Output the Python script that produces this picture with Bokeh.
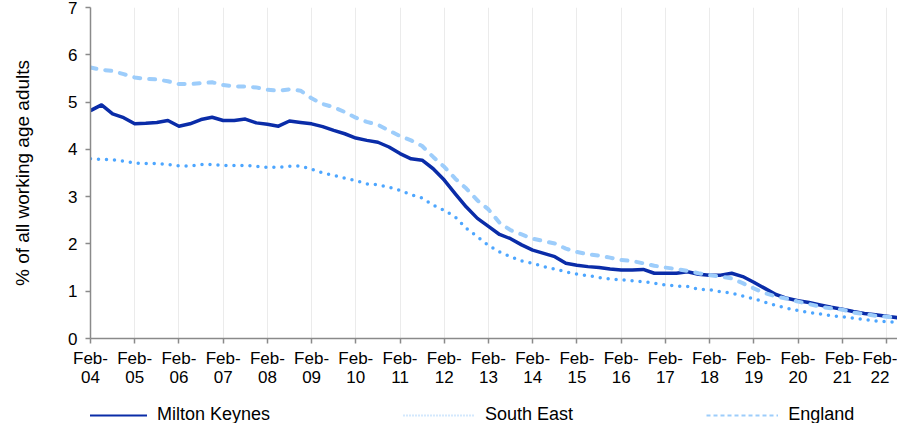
from bokeh.plotting import figure
from bokeh.models import Range1d, FixedTicker, Legend, LegendItem
from bokeh.layouts import column
from bokeh.embed import file_html
from bokeh.resources import INLINE

# Quarterly series, Feb-04 .. May-22
quarters = [f"{m}-{y:02d}" for y in range(4, 23) for m in ("Feb", "May", "Aug", "Nov")][:74]

milton_keynes = [4.82, 4.94, 4.75, 4.67, 4.54, 4.55, 4.57, 4.61, 4.49, 4.54,
                 4.63, 4.68, 4.61, 4.61, 4.64, 4.56, 4.53, 4.49, 4.60, 4.57,
                 4.54, 4.48, 4.40, 4.33, 4.24, 4.19, 4.15, 4.05, 3.91, 3.80,
                 3.77, 3.59, 3.35, 3.06, 2.78, 2.54, 2.37, 2.20, 2.11, 1.98,
                 1.87, 1.80, 1.73, 1.59, 1.55, 1.52, 1.50, 1.47, 1.45, 1.45,
                 1.46, 1.38, 1.38, 1.38, 1.41, 1.36, 1.34, 1.34, 1.38, 1.31,
                 1.19, 1.06, 0.93, 0.85, 0.80, 0.76, 0.71, 0.66, 0.62, 0.57,
                 0.53, 0.50, 0.47, 0.44]

south_east = [3.80, 3.79, 3.78, 3.75, 3.71, 3.70, 3.70, 3.68, 3.65, 3.65,
              3.68, 3.68, 3.66, 3.66, 3.66, 3.64, 3.62, 3.62, 3.64, 3.65,
              3.58, 3.50, 3.45, 3.39, 3.34, 3.27, 3.25, 3.20, 3.13, 3.04,
              2.97, 2.82, 2.71, 2.57, 2.33, 2.15, 1.97, 1.83, 1.73, 1.64,
              1.59, 1.52, 1.47, 1.41, 1.36, 1.33, 1.29, 1.26, 1.24, 1.22,
              1.20, 1.17, 1.13, 1.11, 1.10, 1.04, 1.03, 0.99, 0.96, 0.90,
              0.84, 0.77, 0.70, 0.64, 0.59, 0.55, 0.52, 0.48, 0.46, 0.43,
              0.40, 0.37, 0.36, 0.34]

england = [5.73, 5.68, 5.66, 5.59, 5.52, 5.49, 5.48, 5.44, 5.38, 5.38,
           5.40, 5.42, 5.36, 5.33, 5.33, 5.31, 5.26, 5.24, 5.27, 5.24,
           5.08, 4.96, 4.89, 4.79, 4.67, 4.58, 4.52, 4.40, 4.28, 4.19,
           4.07, 3.84, 3.63, 3.38, 3.17, 2.92, 2.73, 2.45, 2.29, 2.20,
           2.11, 2.06, 2.01, 1.90, 1.83, 1.78, 1.75, 1.71, 1.66, 1.64,
           1.59, 1.54, 1.50, 1.47, 1.43, 1.38, 1.34, 1.31, 1.27, 1.17,
           1.06, 0.96, 0.89, 0.84, 0.78, 0.73, 0.67, 0.64, 0.61, 0.55,
           0.52, 0.48, 0.46, 0.44]

tick_years = ["04", "05", "06", "07", "08", "09", "10", "11", "12", "13",
              "14", "15", "16", "17", "18", "19", "20", "21", "22"]
y_ticks = [0, 1, 2, 3, 4, 5, 6, 7]

FONT = "Liberation Sans"
MK_COL = "#0a2ca8"
SE_COL = "#4da6ff"
EN_COL = "#9dcdfb"

x = list(range(len(quarters)))
tick_pos = [quarters.index("Feb-" + yy) for yy in tick_years]

p = figure(width=897, height=389, output_backend="svg", toolbar_location=None,
           x_range=Range1d(0, len(quarters) - 1), y_range=Range1d(0, 7),
           min_border_left=90, min_border_right=0, min_border_top=7,
           min_border_bottom=50)
p.outline_line_color = None
p.background_fill_color = "white"

p.line(x, milton_keynes, line_color=MK_COL, line_width=3.5, line_join="round")
p.line(x, south_east, line_color=SE_COL, line_width=3.5, line_dash="0 8", line_cap="round")
p.line(x, england, line_color=EN_COL, line_width=4, line_dash="6 9", line_cap="round")

# axes
p.xaxis.ticker = FixedTicker(ticks=tick_pos)
p.xaxis.major_label_overrides = {pos: "Feb-\n" + yy for pos, yy in zip(tick_pos, tick_years)}
p.yaxis.ticker = FixedTicker(ticks=y_ticks)
for ax in (p.xaxis[0], p.yaxis[0]):
    ax.axis_line_color = "#8a8a8a"
    ax.axis_line_width = 1.5
    ax.major_tick_line_color = "#8a8a8a"
    ax.major_tick_line_width = 1.5
    ax.major_tick_in = 0
    ax.major_tick_out = 5
    ax.minor_tick_line_color = None
    ax.major_label_text_font = FONT
    ax.major_label_text_font_size = "17px"
    ax.major_label_text_color = "black"
p.xaxis.major_label_text_line_height = 1.0
p.xaxis.major_label_standoff = 5
p.yaxis.major_label_standoff = 8
p.yaxis.axis_label = "% of all working age adults"
p.yaxis.axis_label_text_font = FONT
p.yaxis.axis_label_text_font_size = "19px"
p.yaxis.axis_label_text_font_style = "normal"
p.yaxis.axis_label_text_color = "black"
p.yaxis.axis_label_standoff = 32

p.ygrid.grid_line_color = None
p.xgrid.ticker = FixedTicker(ticks=tick_pos)
p.xgrid.grid_line_color = "#ebebeb"
p.xgrid.grid_line_width = 1

# legend strip below the chart (series drawn out of view; only the swatches show)
lg = figure(width=897, height=34, output_backend="svg", toolbar_location=None,
            x_range=Range1d(0, 1), y_range=Range1d(-2, -1),
            x_axis_location=None, y_axis_location=None,
            min_border=0)
lg.outline_line_color = None
lg.grid.visible = False
l_mk = lg.line(x, milton_keynes, line_color=MK_COL, line_width=2)
l_se = lg.line(x, south_east, line_color="#a9d2fb", line_width=2, line_dash="1 2")
l_en = lg.line(x, england, line_color=EN_COL, line_width=2, line_dash="4 3")

legend = Legend(items=[LegendItem(label="Milton Keynes", renderers=[l_mk]),
                       LegendItem(label="South East", renderers=[l_se]),
                       LegendItem(label="England", renderers=[l_en])],
                orientation="horizontal", location=(-15, -2),
                glyph_width=72, glyph_height=18, label_standoff=10, spacing=133,
                padding=0, margin=0, border_line_color=None,
                background_fill_alpha=0,
                label_text_font=FONT, label_text_font_size="18px",
                label_text_line_height=1.0,
                label_text_color="black")
lg.add_layout(legend, "center")

open("out.html", "w").write(file_html(column(p, lg, spacing=0), INLINE))
